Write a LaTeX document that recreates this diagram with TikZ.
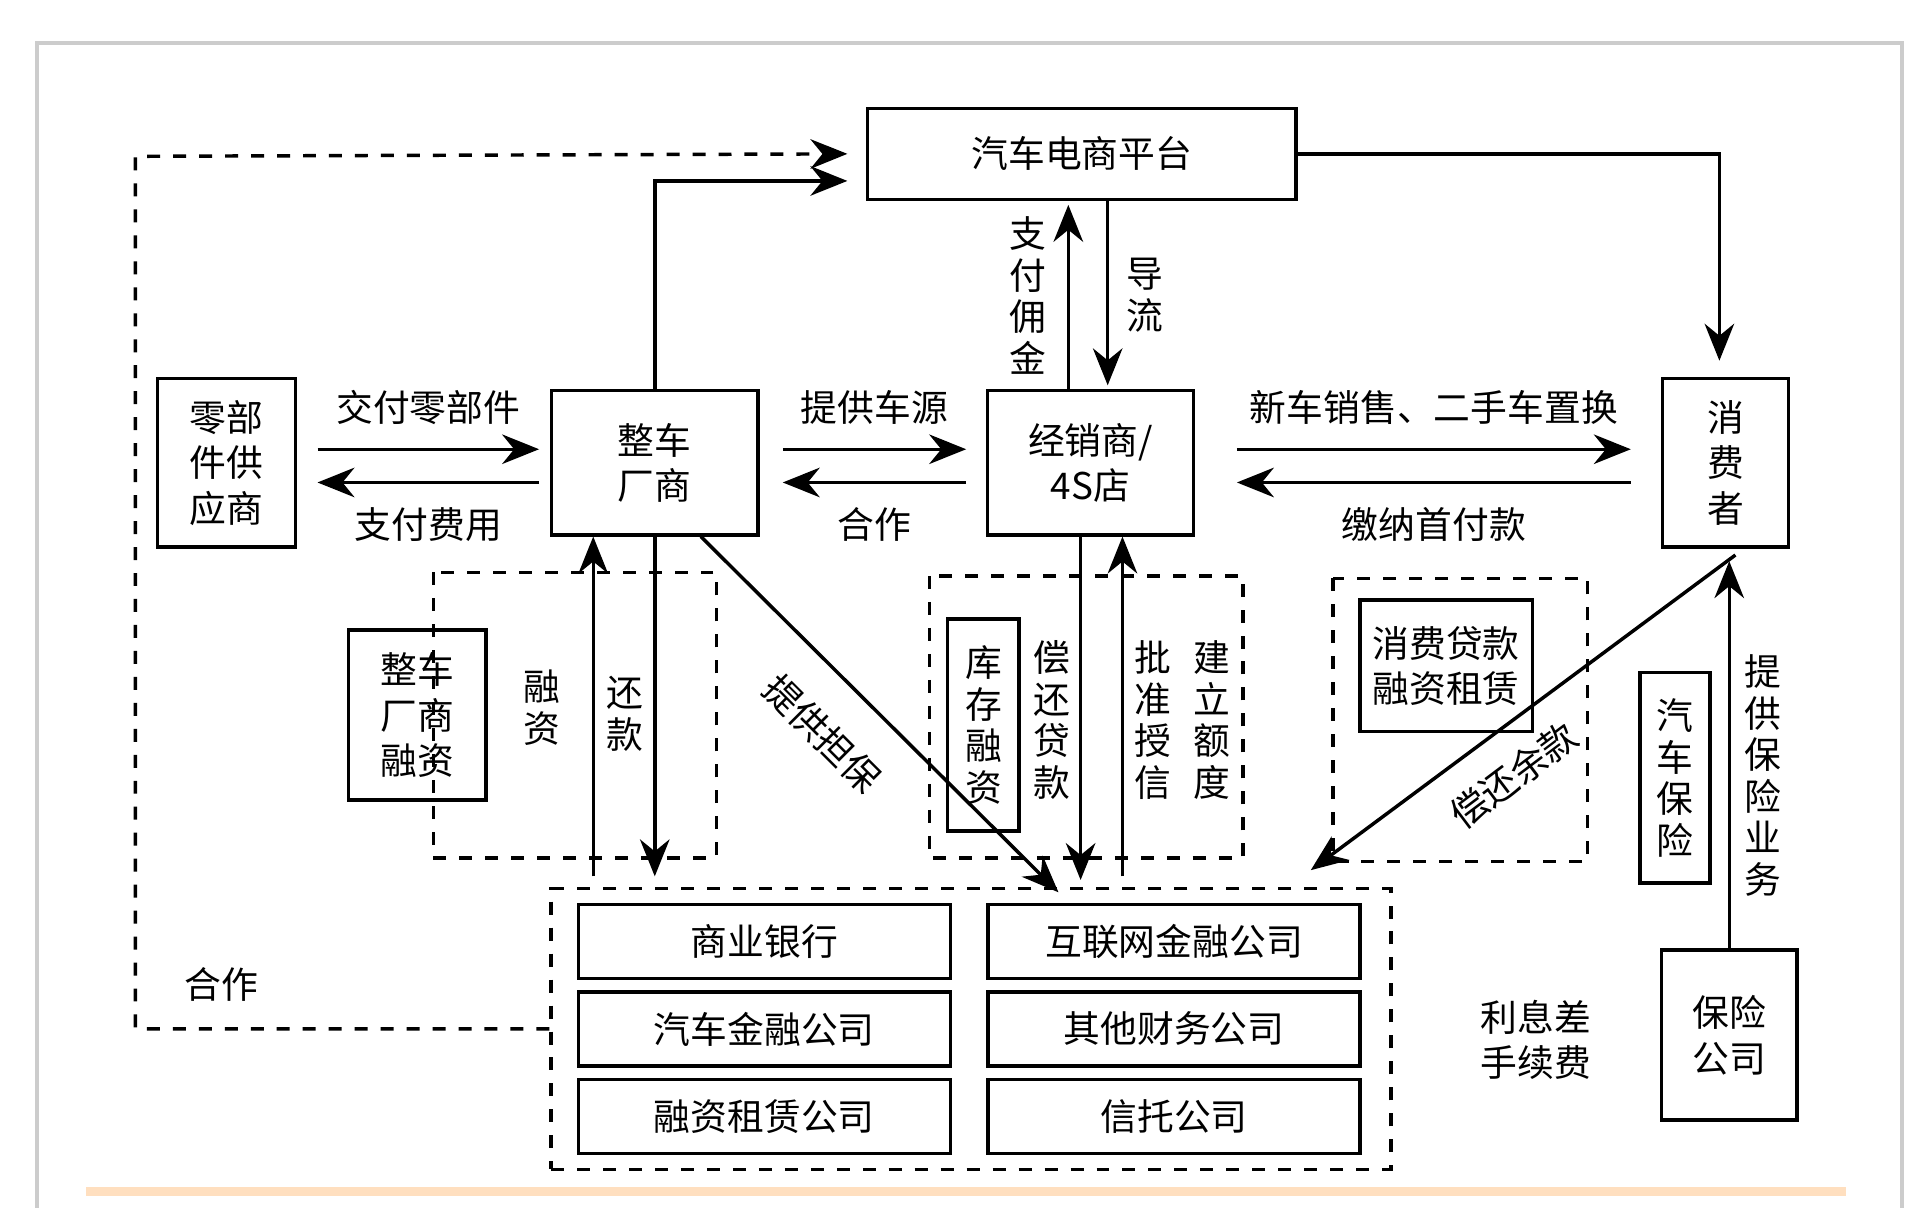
\documentclass[tikz,border=0pt]{standalone}
\usepackage{fontspec}
\setmainfont{Noto Sans CJK SC}
\usetikzlibrary{arrows.meta,calc}
\tikzset{box/.style={draw, thick, align=center, inner sep=0pt},
  arr/.style={thick, -{Stealth[length=3mm,width=2.4mm]}},
  dbox/.style={draw, thick, dashed},
  lab/.style={align=center, inner sep=1pt, font=\fontsize{8.5}{9.6}\selectfont}}
\begin{document}
\begin{tikzpicture}[x=0.01cm, y=-0.01cm, font=\fontsize{8.5}{10.5}\selectfont, line width=0.9pt]
  \useasboundingbox (0,0) rectangle (1560,981);
  \draw[gray!40] (30,35) rectangle (1545,990);
  \draw[orange!25, line width=2pt] (70,968) -- (1500,968);
  % main boxes
  \node[box, minimum width=3.48cm, minimum height=0.74cm] (pt) at (879,125) {汽车电商平台};
  \node[box, minimum width=1.12cm, minimum height=1.37cm] (lj) at (184,376) {零部\\件供\\应商};
  \node[box, minimum width=1.68cm, minimum height=1.17cm] (zc) at (532,376) {整车\\厂商};
  \node[box, minimum width=1.67cm, minimum height=1.17cm] (jx) at (886,376) {经销商/\\4S店};
  \node[box, minimum width=1.02cm, minimum height=1.37cm] (xf) at (1402,376) {消\\费\\者};
  % finance institutions
  \node[dbox, minimum width=6.82cm, minimum height=2.28cm] (jr) at (789,836) {};
  \foreach \n/\t/\x/\y in {a/商业银行/621/765, b/汽车金融公司/621/836, c/融资租赁公司/621/907,
                          d/互联网金融公司/954/765, e/其他财务公司/954/836, f/信托公司/954/907}
    \node[box, minimum width=3.02cm, minimum height=0.6cm] (\n) at (\x,\y) {\t};
  % dashed groups
  \draw[dbox] (352,465) rectangle (582,697);
  \draw[dbox] (755,468) rectangle (1010,697);
  \draw[dbox] (1083,470) rectangle (1290,700);
  \node[box, minimum width=1.12cm, minimum height=1.38cm] (zcrz) at (339,581) {整车\\厂商\\融资};
  \node[box, lab, inner sep=0pt, minimum width=0.58cm, minimum height=1.72cm] (kc) at (799,589) {库\\存\\融\\资};
  \node[box, minimum width=1.4cm, minimum height=1.07cm] (xd) at (1175,541) {消费贷款\\融资租赁};
  \node[box, lab, inner sep=0pt, minimum width=0.57cm, minimum height=1.71cm] (bx) at (1361,632) {汽\\车\\保\\险};
  \node[box, minimum width=1.1cm, minimum height=1.38cm] (bg) at (1405,841) {保险\\公司};
  % free ends
  \coordinate (c1) at (258,365); \coordinate (c2) at (438,365);
  \coordinate (c3) at (636,365); \coordinate (c4) at (785,365);
  \coordinate (c5) at (1005,365); \coordinate (c6) at (1325,365);
  % horizontal flows
  \draw[arr] (c1) -- (c2) node[midway, above=2pt] {交付零部件};
  \draw[arr] ($(c2)+(0,27)$) -- ($(c1)+(0,27)$) node[midway, below=2pt] {支付费用};
  \draw[arr] (c3) -- (c4) node[midway, above=2pt] {提供车源};
  \draw[arr] ($(c4)+(0,27)$) -- ($(c3)+(0,27)$) node[midway, below=2pt] {合作};
  \draw[arr] (c5) -- (c6) node[midway, above=2pt] {新车销售、二手车置换};
  \draw[arr] ($(c6)+(0,27)$) -- ($(c5)+(0,27)$) node[midway, below=2pt] {缴纳首付款};
  % platform links
  \draw[arr] (zc.north) |- ($(pt.west)+(-15,22)$);
  \draw[arr] (pt.east) -| ($(xf.north)+(-5,-13)$);
  \draw[arr] ($(jx.north)+(-18,0)$) -- ($(pt.south)+(-11,3)$);
  \draw[arr] ($(pt.south)+(21,0)$) -- ($(jx.north)+(14,-3)$);
  \node[lab] at (835,240) {支\\付\\佣\\金};
  \node[lab] at (930,240) {导\\流};
  \draw[thick, dashed, -{Stealth[length=3mm,width=2.4mm]}] (jr.west |- b) -| (110,127) -- ($(pt.west)+(-15,0)$);
  \node at (180,800) {合作};
  % manufacturer finance
  \draw[arr] (482,712) -- (zc.south -| 482,0);
  \draw[arr] (zc.south -| 532,0) -- (532,712);
  \node[lab] at (440,575) {融\\资};
  \node[lab] at (508,580) {还\\款};
  \draw[arr] ($(zc.south east)+(-48,0)$) -- (860,725);
  \node[rotate=-45, inner sep=0pt] at (668,596) {提供担保};
  % dealer finance
  \draw[arr] (jx.south -| 878,0) -- (878,715);
  \draw[arr] (912,712) -- (jx.south -| 912,0);
  \node[lab] at (855,585) {偿\\还\\贷\\款};
  \node[lab] at (937,585) {批\\准\\授\\信};
  \node[lab] at (985,585) {建\\立\\额\\度};
  % consumer finance
  \draw[arr] ($(xf.south)+(8,5)$) -- (1065,707);
  \node[rotate=37, inner sep=0pt] at (1230,630) {偿还余款};
  % insurance
  \draw[arr] (bg.north) -- ($(xf.south)+(3,10)$);
  \node[lab] at (1432,630) {提\\供\\保\\险\\业\\务};
  \node[align=center] at (1248,845) {利息差\\手续费};
\end{tikzpicture}
\end{document}
